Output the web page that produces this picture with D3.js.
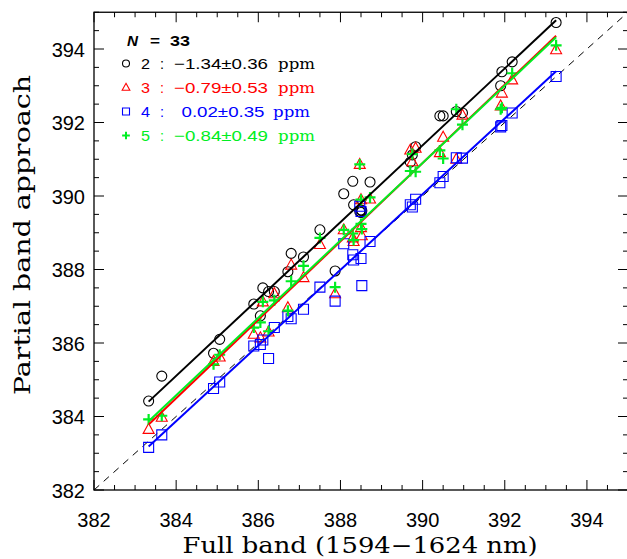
<!DOCTYPE html>
<html>
<head>
<meta charset="utf-8">
<script src="https://cdn.jsdelivr.net/npm/d3@7"></script>
<style>
  body { margin: 0; background: #fff; }
</style>
</head>
<body>
<div id="chart"></div>
<script>
// Full band XCO2 (x) for the 33 samples
var fullBand = [383.33, 383.65, 384.91, 385.06, 385.89, 386.05, 386.11, 386.25, 386.39, 386.72, 386.80,
    387.10, 387.50, 387.87, 388.08, 388.30, 388.32, 388.47, 388.50, 388.50, 388.52, 388.72,
    389.70, 389.75, 389.83, 390.42, 390.50, 390.82, 390.97, 391.90, 391.93, 392.18, 393.25];

// Partial band approaches (y), one array per approach
var band2 = [384.42, 385.10, 385.72, 386.10, 387.06, 386.74, 387.50, 387.40, 387.40, 387.94, 388.44,
    388.34, 389.08, 387.96, 390.06, 390.40, 389.76, 389.58, 389.62, 389.55, 389.60, 390.38,
    390.92, 391.12, 391.34, 392.18, 392.18, 392.30, 392.26, 393.00, 393.38, 393.65, 394.72];
var band3 = [383.65, 383.98, 385.50, 385.62, 386.24, 386.14, 387.12, 386.30, 387.34, 386.96, 388.12,
    387.78, 388.68, 387.34, 389.08, 388.86, 388.76, 390.86, 389.90, 389.14, 388.92, 389.92,
    391.25, 390.93, 391.30, 391.18, 391.60, 391.00, 392.20, 392.45, 392.80, 393.16, 393.98];
var band4 = [383.16, 383.50, 384.76, 384.94, 385.92, 385.96, 386.08, 385.58, 386.42, 386.72, 386.66,
    386.92, 387.52, 387.14, 388.70, 388.40, 388.26, 389.72, 389.58, 388.30, 387.56, 388.76,
    389.76, 389.70, 389.91, 390.36, 390.53, 391.04, 391.03, 391.88, 391.92, 392.26, 393.25];
var band5 = [383.92, 384.02, 385.42, 385.68, 386.42, 386.56, 387.12, 386.32, 387.16, 386.88, 387.68,
    388.10, 388.86, 387.52, 389.08, 388.98, 388.80, 390.86, 389.90, 389.24, 389.10, 389.96,
    390.68, 391.14, 390.66, 391.24, 391.02, 392.36, 391.94, 392.36, 392.40, 393.34, 394.10];

var seriesIds = ["2", "3", "4", "5"];
var seriesBias = ["\u22121.34\u00b10.36", "\u22120.79\u00b10.53", "0.02\u00b10.35", "\u22120.84\u00b10.49"];
var seriesColors = ["#000000", "#ff0000", "#0000ff", "#00ee22"];
var seriesShapes = ["circle", "triangle", "square", "plus"];
var tickLabels = [382, 384, 386, 388, 390, 392, 394];

var width = 627, height = 559;
var mLeft = 94, mRight = 628, mTop = 12.25, mBottom = 490;

var svg = d3.select("#chart").append("svg")
    .attr("width", width)
    .attr("height", height);

var x = d3.scaleLinear().domain([382, 395]).range([mLeft, mRight]);
var y = d3.scaleLinear().domain([382, 395]).range([mBottom, mTop]);

// clip to the frame
svg.append("clipPath").attr("id", "clip")
    .append("rect").attr("x", mLeft).attr("y", mTop)
    .attr("width", mRight - mLeft).attr("height", mBottom - mTop);

var plot = svg.append("g");

// 1:1 dashed line
plot.append("line")
    .attr("clip-path", "url(#clip)")
    .attr("x1", x(382)).attr("y1", y(382))
    .attr("x2", x(395)).attr("y2", y(395))
    .attr("stroke", "#000")
    .attr("stroke-width", 1)
    .attr("stroke-dasharray", "7,6");

var series = [band2, band3, band4, band5];

// marker paths
function markerPath(shape, s) {
    if (shape === "triangle") return "M0," + (-6 * s) + "L" + (5.5 * s) + "," + (4 * s) + "L" + (-5.5 * s) + "," + (4 * s) + "Z";
    if (shape === "square") return "M" + (-5 * s) + "," + (-5 * s) + "h" + (10 * s) + "v" + (10 * s) + "h" + (-10 * s) + "Z";
    if (shape === "plus") return "M" + (-5.5 * s) + ",0h" + (11 * s) + "M0," + (-5.5 * s) + "v" + (11 * s);
    return d3.symbol().type(d3.symbolCircle).size(Math.PI * 25 * s * s)();
}

series.forEach(function (vals, i) {
    var pts = fullBand.map(function (d, j) { return [d, vals[j]]; });
    plot.append("g").selectAll("path")
        .data(pts)
        .join("path")
        .attr("transform", d => "translate(" + x(d[0]) + "," + y(d[1]) + ")")
        .attr("d", markerPath(seriesShapes[i], 1))
        .attr("fill", "none")
        .attr("stroke", seriesColors[i])
        .attr("stroke-width", seriesShapes[i] === "plus" ? 2.2 : 1.1);
});

// least squares fit lines
series.forEach(function (vals, i) {
    var mx = d3.mean(fullBand), my = d3.mean(vals);
    var sxy = d3.sum(fullBand, (d, j) => (d - mx) * (vals[j] - my));
    var sxx = d3.sum(fullBand, d => (d - mx) * (d - mx));
    var b = sxy / sxx, a = my - b * mx;
    var x0 = d3.min(fullBand), x1 = d3.max(fullBand);
    plot.append("line")
        .attr("x1", x(x0)).attr("y1", y(a + b * x0))
        .attr("x2", x(x1)).attr("y2", y(a + b * x1))
        .attr("stroke", seriesColors[i])
        .attr("stroke-width", 2);
});

// frame
svg.append("rect")
    .attr("x", mLeft).attr("y", mTop)
    .attr("width", mRight - mLeft).attr("height", mBottom - mTop)
    .attr("fill", "none")
    .attr("stroke", "#000")
    .attr("stroke-width", 1.3);

// ticks on all four sides
var minor = d3.range(382, 395.01, 0.5);
function tickLen(v) { return (Math.abs(v / 2 - Math.round(v / 2)) < 1e-6) ? 10 : 5; }
var ticks = svg.append("g").attr("stroke", "#000").attr("stroke-width", 1);
minor.forEach(function (v) {
    var L = tickLen(v);
    ticks.append("line").attr("x1", x(v)).attr("x2", x(v)).attr("y1", mBottom).attr("y2", mBottom - L);
    ticks.append("line").attr("x1", x(v)).attr("x2", x(v)).attr("y1", mTop).attr("y2", mTop + L);
    ticks.append("line").attr("y1", y(v)).attr("y2", y(v)).attr("x1", mLeft).attr("x2", mLeft + L);
    ticks.append("line").attr("y1", y(v)).attr("y2", y(v)).attr("x1", mRight).attr("x2", mRight - L);
});

// tick labels
svg.append("g").selectAll("text")
    .data(tickLabels)
    .join("text")
    .attr("x", d => x(d))
    .attr("y", 527)
    .attr("text-anchor", "middle")
    .attr("font-family", "Liberation Sans, Arial, sans-serif")
    .attr("font-size", 20)
    .text(d => d);

svg.append("g").selectAll("text")
    .data(tickLabels)
    .join("text")
    .attr("x", 85)
    .attr("y", d => y(d) + 7.5)
    .attr("text-anchor", "end")
    .attr("font-family", "Liberation Sans, Arial, sans-serif")
    .attr("font-size", 20)
    .text(d => d);

// axis titles
svg.append("text")
    .attr("x", 360)
    .attr("y", 553)
    .attr("text-anchor", "middle")
    .attr("font-family", "DejaVu Serif, serif")
    .attr("font-size", 22)
    .attr("textLength", 355)
    .attr("lengthAdjust", "spacingAndGlyphs")
    .text("Full band (1594\u22121624 nm)");

svg.append("text")
    .attr("transform", "translate(30,235) rotate(-90)")
    .attr("text-anchor", "middle")
    .attr("font-family", "DejaVu Serif, serif")
    .attr("font-size", 22)
    .attr("textLength", 320)
    .attr("lengthAdjust", "spacingAndGlyphs")
    .text("Partial band approach");

// legend
var legend = svg.append("g");
function legendText(str, xPos, yPos, len, color, family) {
    return legend.append("text")
        .attr("x", xPos).attr("y", yPos)
        .attr("fill", color)
        .attr("font-family", family)
        .attr("font-size", 15)
        .attr("textLength", len)
        .attr("lengthAdjust", "spacingAndGlyphs")
        .text(str);
}
legendText("N", 127, 45.5, 11, "#000", "Liberation Sans, Arial, sans-serif")
    .attr("font-weight", "bold").attr("font-style", "italic");
legendText("=", 150, 45.5, 10, "#000", "Liberation Sans, Arial, sans-serif").attr("font-weight", "bold");
legendText("33", 170, 45.5, 20, "#000", "Liberation Sans, Arial, sans-serif").attr("font-weight", "bold");

seriesIds.forEach(function (id, i) {
    var cy = 63.5 + i * 24;
    legend.append("path")
        .attr("transform", "translate(126," + cy + ")")
        .attr("d", markerPath(seriesShapes[i], 0.7))
        .attr("fill", "none")
        .attr("stroke", seriesColors[i])
        .attr("stroke-width", seriesShapes[i] === "plus" ? 2 : 1.1);
    var neg = seriesBias[i].charAt(0) === "\u2212";
    var fam = "Liberation Sans, Arial, sans-serif";
    legendText(id, 141, cy + 5.5, 9, seriesColors[i], fam);
    legendText(":", 160, cy + 5.5, 4, seriesColors[i], fam);
    legendText(seriesBias[i], neg ? 174 : 181.5, cy + 5.5, neg ? 94 : 83, seriesColors[i], fam);
    legendText("ppm", neg ? 278 : 273, cy + 5.5, 37, seriesColors[i], "DejaVu Serif, serif");
});
</script>
</body>
</html>
